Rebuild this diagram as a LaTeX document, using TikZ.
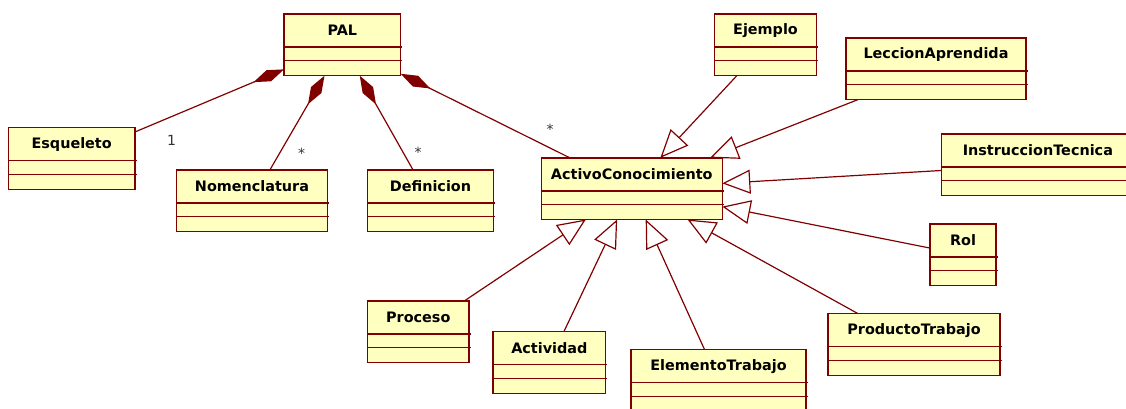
\documentclass[tikz,border=0pt]{standalone}
\usepackage{fontspec}
\setmainfont{DejaVu Sans}
\usetikzlibrary{arrows.meta,calc}

\definecolor{rosered}{RGB}{128,0,0}
\definecolor{rosefill}{RGB}{255,255,192}

\tikzset{
  classbox/.style={draw=rosered, fill=rosefill, line width=1.4pt,
    minimum height=61.7pt, inner sep=0pt, outer sep=0pt, anchor=north west},
  classname/.style={font=\bfseries\fontsize{14.4}{16}\selectfont, inner sep=0pt},
  divider/.style={draw=rosered, line width=1.4pt},
  link/.style={draw=rosered, line width=1.2pt},
  composition/.style={link, {Diamond[length=33pt,width=12pt,fill=rosered]}-},
  generalization/.style={link, -{Triangle[open,length=28pt,width=24pt]}},
  mult/.style={font=\fontsize{14}{16}\selectfont, text=black!80, inner sep=0pt, anchor=base},
}

% UML class: id, left, top, right, name
\newcommand\umlclass[5]{%
  \node[classbox, minimum width={#4pt-#2pt}] (#1) at (#2,#3) {};
  \node[classname] (#1-name) at ($(#1.north)+(0,16.5)$) {#5};
  \draw[divider] (#2,{#3+33}) -- ({#4+1.5},{#3+33});
  \draw[divider] (#2,{#3+46.7}) -- ({#4+1.5},{#3+46.7});
}

\begin{document}
\begin{tikzpicture}[x=1pt, y=-1pt]
  \useasboundingbox (0,0) rectangle (1126,409);
  \clip (0,0) rectangle (1126,409);

  % classes
  \umlclass{pal}{284}{14}{400.7}{PAL}
  \umlclass{esq}{8.3}{127.7}{135}{Esqueleto}
  \umlclass{nom}{176.7}{170}{327.3}{Nomenclatura}
  \umlclass{def}{367.7}{170}{493.3}{Definicion}
  \umlclass{act}{541.2}{157.8}{722.3}{ActivoConocimiento}
  \umlclass{ejm}{714.3}{14}{816.7}{Ejemplo}
  \umlclass{lec}{846}{38}{1026}{LeccionAprendida}
  \umlclass{ins}{941.7}{134}{1134}{InstruccionTecnica}
  \umlclass{rol}{930}{223.8}{996}{Rol}
  \umlclass{pro}{367.5}{301}{469}{Proceso}
  \umlclass{acd}{493}{331.5}{605.7}{Actividad}
  \umlclass{ele}{631}{349.7}{806}{ElementoTrabajo}
  \umlclass{prt}{828}{313.7}{1000}{ProductoTrabajo}

  % compositions from PAL
  \draw[composition] (pal) -- (esq);
  \draw[composition] (pal) -- (nom);
  \draw[composition] (pal) -- (def);
  \draw[composition] (pal) -- (act);

  % multiplicities
  \node[mult] (m-esq) at (171.7,145) {1};
  \node[mult] (m-nom) at (301.7,158.5) {*};
  \node[mult] (m-def) at (418,157) {*};
  \node[mult] (m-act) at (550,135) {*};

  % generalizations to ActivoConocimiento
  \draw[generalization] (ejm) -- (act);
  \draw[generalization] (lec) -- (act);
  \draw[generalization] (ins) -- (act);
  \draw[generalization] (rol) -- (act);
  \draw[generalization] (pro) -- (act);
  \draw[generalization] (acd) -- (act);
  \draw[generalization] (ele) -- (act);
  \draw[generalization] (prt) -- (act);
\end{tikzpicture}
\end{document}
